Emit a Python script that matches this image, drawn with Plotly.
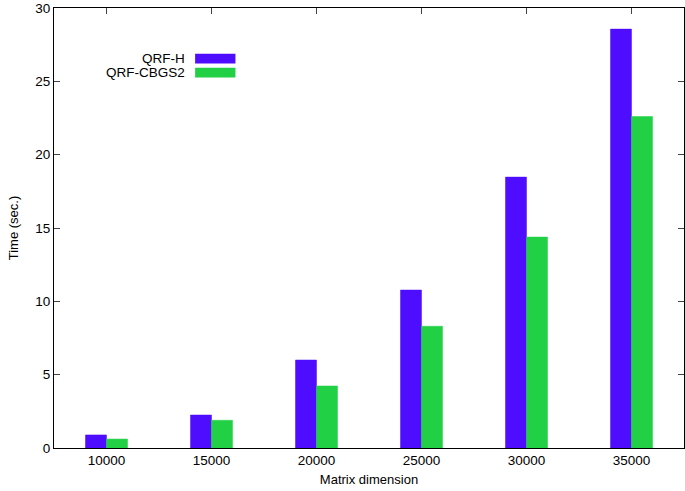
import plotly.graph_objects as go

# Matrix dimensions and timings (seconds)
sizes = ["10000", "15000", "20000", "25000", "30000", "35000"]
qrf_h = [0.89, 2.25, 6.0, 10.77, 18.47, 28.56]
qrf_cbgs2 = [0.61, 1.89, 4.23, 8.3, 14.38, 22.6]

series_names = ["QRF-H", "QRF-CBGS2"]
colors = ["#4f0dff", "#22d046"]
font = dict(family="Liberation Sans, Arial, sans-serif", size=13.5, color="black")
title_font = dict(family="Liberation Sans, Arial, sans-serif", size=13, color="black")

fig = go.Figure()

for name, vals, col in zip(series_names, [qrf_h, qrf_cbgs2], colors):
    fig.add_trace(go.Bar(x=sizes, y=vals, name=name,
                         marker=dict(color=col, line=dict(color=col, width=0.5))))

# gnuplot-style key: text right aligned, colour sample after it
for i, (name, col) in enumerate(zip(series_names, colors)):
    ypos = 0.885 - i * 0.032
    fig.add_annotation(x=0.211, y=ypos, xref="paper", yref="paper", text=name,
                       showarrow=False, xanchor="right", yanchor="middle", font=font)
    fig.add_shape(type="rect", xref="paper", yref="paper",
                  x0=0.224, x1=0.288, y0=ypos - 0.011, y1=ypos + 0.011,
                  fillcolor=col, line=dict(width=0))

fig.update_layout(
    width=685, height=491,
    margin=dict(l=54, r=1, t=8, b=43),
    paper_bgcolor="white", plot_bgcolor="white",
    font=font,
    barmode="group", bargap=0.6, bargroupgap=0,
    showlegend=False,
    xaxis=dict(
        title=dict(text="Matrix dimension", standoff=7, font=title_font),
        showline=True, linecolor="black", linewidth=1, mirror=True,
        ticks="", showgrid=False, tickfont=font, automargin=False,
    ),
    xaxis2=dict(
        overlaying="x", side="top", range=[-0.5, 5.5],
        tickvals=[0, 1, 2, 3, 4, 5], showticklabels=False,
        ticks="inside", ticklen=6, tickcolor="#444", showgrid=False,
        showline=False, zeroline=False, automargin=False,
    ),
    yaxis=dict(
        title=dict(text="Time (sec.)", standoff=13, font=title_font),
        range=[0, 30], dtick=5,
        showline=True, linecolor="black", linewidth=1, mirror="ticks",
        ticks="inside", ticklen=6, tickcolor="#444",
        showgrid=False, zeroline=False, tickfont=font, automargin=False,
    ),
)

# dummy invisible trace to activate the top axis
fig.add_trace(go.Scatter(x=[0], y=[0], xaxis="x2", mode="markers",
                         marker=dict(opacity=0), hoverinfo="skip", showlegend=False))

fig.write_html("out.html", config={"displayModeBar": False},
               post_script="document.body.style.margin='0px';")
